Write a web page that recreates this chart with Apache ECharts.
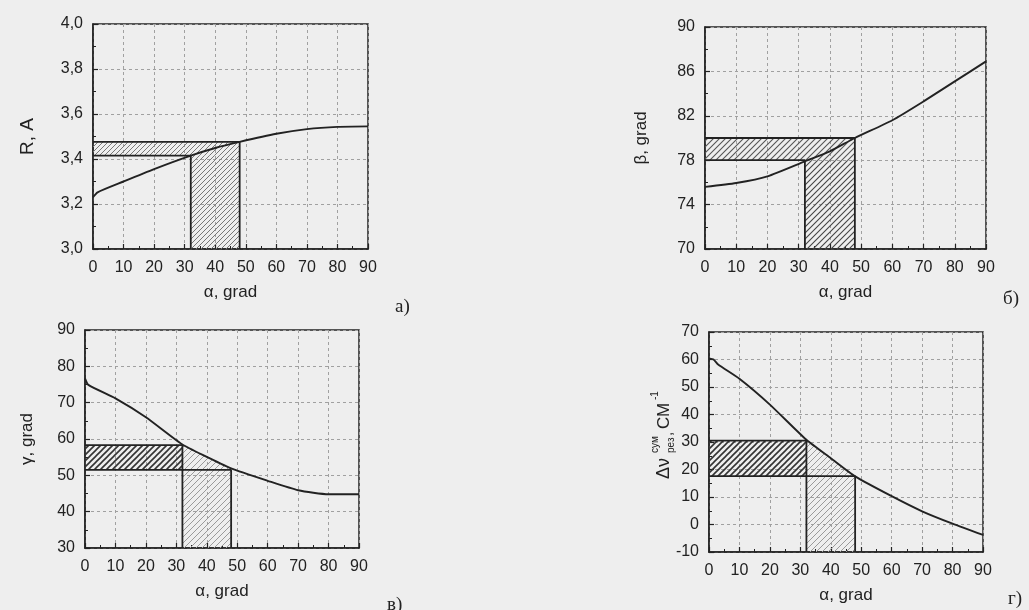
<!DOCTYPE html>
<html>
<head>
<meta charset="utf-8">
<script src="https://cdn.jsdelivr.net/npm/echarts@6/dist/echarts.min.js"></script>
<style>
  html, body { margin: 0; padding: 0; background: #eeeeee; }
  #chart { width: 1029px; height: 610px; }
</style>
</head>
<body>
<div id="chart"></div>
<script>
// α, grad - shared x values per panel
const alphaR = [0, 1.5, 10, 20, 32, 40, 48, 60, 70, 80, 90];
const valR = [3.23, 3.252, 3.30, 3.355, 3.415, 3.449, 3.476, 3.512, 3.533, 3.543, 3.545];

const alphaBeta = [0, 10, 20, 32, 40, 48, 60, 70, 80, 90];
const valBeta = [75.6, 75.95, 76.55, 77.9, 78.8, 80.0, 81.6, 83.3, 85.1, 86.9];

const alphaGamma = [0, 1.1, 10, 20, 32, 40, 48, 60, 70, 80, 90];
const valGamma = [76.7, 74.9, 71.2, 66.0, 58.5, 55.1, 51.9, 48.5, 45.9, 44.8, 44.8];

const alphaNu = [0, 1.5, 3, 10, 20, 32, 40, 48, 60, 70, 80, 90];
const valNu = [60.4, 60.0, 58.2, 53.0, 43.6, 30.8, 24.1, 17.5, 10.3, 4.8, 0.3, -3.8];

// hatched zones: [lower, upper] value and [from, to] α
const bandR = [3.415, 3.476];
const bandBeta = [78.0, 80.0];
const bandGamma = [51.5, 58.3];
const bandNu = [17.6, 30.5];
const spanAlpha = [32, 48];

// axis ranges [min, max, interval]
const rangeR = [3.0, 4.0, 0.2];
const rangeBeta = [70, 90, 4];
const rangeGamma = [30, 90, 10];
const rangeNu = [-10, 70, 10];

function hatch(color, gap, lw) {
    let c = document.createElement('canvas');
    c.width = gap;
    c.height = gap;
    let g = c.getContext('2d');
    g.strokeStyle = color;
    g.lineWidth = lw;
    g.beginPath();
    g.moveTo(0, gap); g.lineTo(gap, 0);
    g.moveTo(-1, 1); g.lineTo(1, -1);
    g.moveTo(gap - 1, gap + 1); g.lineTo(gap + 1, gap - 1);
    g.stroke();
    return {image: c, repeat: 'repeat'};
}

const ink = '#222';
const font = 'Liberation Sans';

let grids = [], xAxes = [], yAxes = [], series = [];

function panel(box, alpha, vals, range, band, opt) {
    let idx = grids.length;
    grids.push(Object.assign({show: true, borderColor: ink, borderWidth: 1.5, backgroundColor: 'transparent'}, box));
    xAxes.push({
        gridIndex: idx, type: 'value', min: 0, max: 90, interval: 10,
        name: 'α, grad', nameLocation: 'middle', nameGap: 35,
        nameTextStyle: {fontFamily: font, fontSize: 17, color: ink},
        axisLine: {onZero: false, lineStyle: {color: ink, width: 1.5}},
        axisTick: {inside: true, length: 5, lineStyle: {color: ink, width: 1.2}},
        minorTick: {show: true, splitNumber: 2, length: 3, lineStyle: {color: ink}},
        axisLabel: {fontFamily: font, fontSize: 16, color: ink, margin: 11},
        splitLine: {show: true, lineStyle: {color: '#a0a0a0', type: [3, 3], width: 1}}
    });
    yAxes.push({
        gridIndex: idx, type: 'value', min: range[0], max: range[1], interval: range[2],
        name: opt.yName || '', nameLocation: 'middle', nameGap: opt.nameGap || 55,
        nameTextStyle: {fontFamily: font, fontSize: opt.nameSize || 15, color: ink},
        axisLine: {onZero: false, lineStyle: {color: ink, width: 1.5}},
        axisTick: {inside: true, length: 5, lineStyle: {color: ink, width: 1.2}},
        minorTick: {show: true, splitNumber: 2, length: 3, lineStyle: {color: ink}},
        axisLabel: {fontFamily: font, fontSize: 16, color: ink, margin: 10, formatter: opt.fmt},
        splitLine: {show: true, lineStyle: {color: '#a0a0a0', type: [3, 3], width: 1}}
    });
    let curve = alpha.map((a, i) => [a, vals[i]]);
    let x0 = spanAlpha[0], x1 = spanAlpha[1], lo = band[0], hi = band[1], ymin = range[0];
    let areas;
    if (opt.kind === 'up') {
        areas = [
            [{coord: [0, lo], itemStyle: {color: opt.hatchA}}, {coord: [x1, hi]}],
            [{coord: [x0, ymin], itemStyle: {color: opt.hatchB}}, {coord: [x1, lo]}]
        ];
    } else {
        areas = [
            [{coord: [0, lo], itemStyle: {color: opt.hatchA}}, {coord: [x0, hi]}]
        ];
        // light zone under the curve between the two α limits
        series.push({
            type: 'line', xAxisIndex: idx, yAxisIndex: idx, showSymbol: false, silent: true,
            smooth: 0.2, z: 2,
            data: curve.filter(p => p[0] >= x0 && p[0] <= x1),
            lineStyle: {width: 0},
            areaStyle: {color: opt.hatchB, opacity: 1, origin: 'start'}
        });
    }
    // zone outlines
    let xHi = opt.kind === 'up' ? x1 : x0;
    let xLo = opt.kind === 'up' ? x0 : x1;
    series.push({
        type: 'line', xAxisIndex: idx, yAxisIndex: idx, showSymbol: false, silent: true, z: 4,
        data: [[0, hi], [xHi, hi], [xHi, ymin]],
        lineStyle: {color: ink, width: 1.8},
        markArea: {silent: true, data: areas, itemStyle: {opacity: 1}}
    });
    series.push({
        type: 'line', xAxisIndex: idx, yAxisIndex: idx, showSymbol: false, silent: true, z: 4,
        data: [[0, lo], [xLo, lo], [xLo, ymin]],
        lineStyle: {color: ink, width: 1.8}
    });
    series.push({
        type: 'line', xAxisIndex: idx, yAxisIndex: idx, showSymbol: false, silent: true, z: 5,
        smooth: 0.2, data: curve,
        lineStyle: {color: ink, width: 1.9}
    });
}

panel({left: 93, top: 24, width: 275, height: 225}, alphaR, valR, rangeR, bandR, {
    kind: 'up', yName: 'R, A', nameSize: 19, nameGap: 56,
    fmt: v => v.toFixed(1).replace('.', ','),
    hatchA: hatch('#777', 5, 1), hatchB: hatch('#777', 5, 1)
});
panel({left: 705, top: 27, width: 281, height: 222}, alphaBeta, valBeta, rangeBeta, bandBeta, {
    kind: 'up', yName: 'β, grad', nameSize: 17, nameGap: 55,
    hatchA: hatch('#555', 6, 1.1), hatchB: hatch('#444', 6, 1.1)
});
panel({left: 85, top: 330, width: 274, height: 218}, alphaGamma, valGamma, rangeGamma, bandGamma, {
    kind: 'down', yName: 'γ, grad', nameSize: 17, nameGap: 49,
    hatchA: hatch('#333', 6, 1.6), hatchB: hatch('#9a9a9a', 6, 1)
});
panel({left: 709, top: 332, width: 274, height: 220}, alphaNu, valNu, rangeNu, bandNu, {
    kind: 'down', yName: '',
    hatchA: hatch('#333', 6, 1.6), hatchB: hatch('#9a9a9a', 6, 1)
});

let chart = echarts.init(document.getElementById('chart'));
chart.setOption({
    backgroundColor: '#eeeeee',
    animation: false,
    grid: grids,
    xAxis: xAxes,
    yAxis: yAxes,
    series: series,
    graphic: [
        {type: 'text', left: 395, top: 298, style: {text: 'а)', fontFamily: 'Liberation Serif', fontSize: 19, fill: ink}},
        {type: 'text', left: 1003, top: 290, style: {text: 'б)', fontFamily: 'Liberation Serif', fontSize: 19, fill: ink}},
        {type: 'text', left: 387, top: 596, style: {text: 'в)', fontFamily: 'Liberation Serif', fontSize: 19, fill: ink}},
        {type: 'text', left: 1008, top: 590, style: {text: 'г)', fontFamily: 'Liberation Serif', fontSize: 19, fill: ink}},
        {
            type: 'group', x: 664, y: 479, rotation: Math.PI / 2,
            children: [
                {type: 'text', x: 0, y: 0, style: {text: 'Δν', fontFamily: font, fontSize: 18, fill: ink, verticalAlign: 'middle'}},
                {type: 'text', x: 26, y: -9, style: {text: 'сум', fontFamily: font, fontSize: 10, fill: ink, verticalAlign: 'middle'}},
                {type: 'text', x: 26, y: 7, style: {text: 'рез', fontFamily: font, fontSize: 10, fill: ink, verticalAlign: 'middle'}},
                {type: 'text', x: 43, y: 4, style: {text: ',', fontFamily: font, fontSize: 15, fill: ink, verticalAlign: 'middle'}},
                {type: 'text', x: 50, y: 0, style: {text: 'СМ', fontFamily: font, fontSize: 17, fill: ink, verticalAlign: 'middle'}},
                {type: 'text', x: 79, y: -9, style: {text: '-1', fontFamily: font, fontSize: 10, fill: ink, verticalAlign: 'middle'}}
            ]
        }
    ]
});
</script>
</body>
</html>
